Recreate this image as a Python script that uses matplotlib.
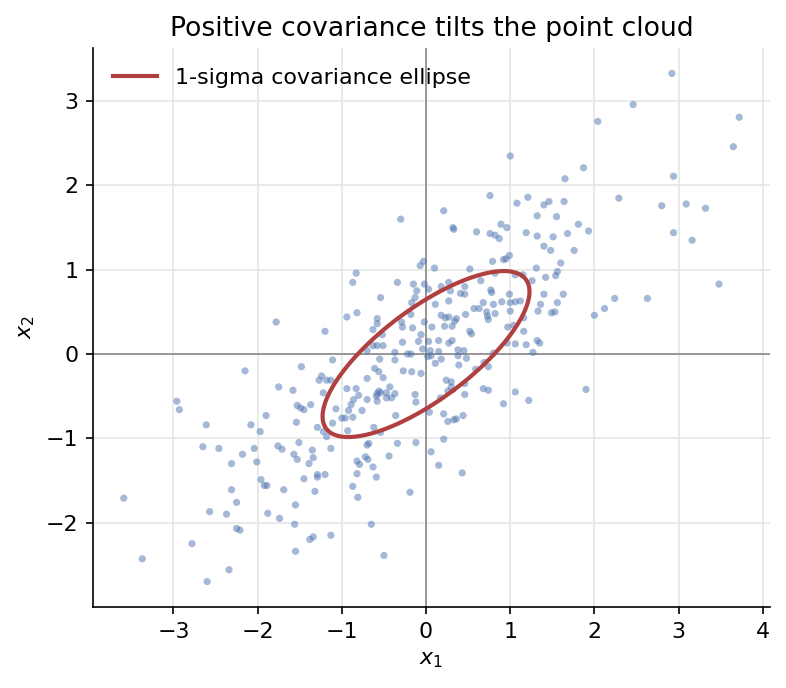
import numpy as np
import matplotlib
matplotlib.use("Agg")
import matplotlib.pyplot as plt

# ---- data (x1, x2 pairs) ----
x1_left = [-2.15,-1.48,-1.75,-1.58,-1.24,-1.27,-1.22,-2.96,-2.93,-1.53,
           -1.49,-1.45,-1.37,-1.90,-2.61,-2.08,-1.97,-1.54,-1.29,-1.22,
           -2.65,-2.46,-2.18,-2.04,-1.76,-1.71,-1.51,-1.35,-1.57,-1.53,
           -1.34,-1.39,-2.31,-2.01,-1.96,-1.92,-1.89,-1.69,-1.45,-1.29,
           -1.29,-1.32,-2.31,-2.25,-3.59,-2.57,-2.37,-1.88,-1.74,-1.55,
           -1.56,-2.25,-2.21,-2.78,-1.38,-1.34,-1.55,-3.37,-2.34,-2.60]
x2_left = [-0.20,-0.15,-0.39,-0.43,-0.26,-0.31,-0.46,-0.56,-0.66,-0.61,
           -0.64,-0.66,-0.60,-0.73,-0.84,-0.84,-0.92,-0.81,-0.87,-0.92,
           -1.10,-1.12,-1.19,-1.12,-1.09,-1.13,-1.05,-1.14,-1.19,-1.25,
           -1.23,-1.30,-1.30,-1.28,-1.49,-1.56,-1.56,-1.61,-1.48,-1.43,
           -1.46,-1.63,-1.61,-1.76,-1.71,-1.87,-1.90,-1.89,-1.95,-1.79,
           -2.02,-2.07,-2.09,-2.25,-2.20,-2.17,-2.34,-2.43,-2.56,-2.70]

x1_right = [2.92,2.46,2.04,3.72,3.65,1.87,1.65,2.94,2.29,2.80,
            3.09,3.32,1.40,1.46,1.64,1.55,1.81,1.93,1.68,1.51,
            2.94,3.16,1.40,1.48,1.76,1.60,1.56,1.54,1.42,3.48,
            1.40,1.63,2.24,2.63,1.36,1.56,1.49,1.53,2.12,2.00]
x2_right = [3.33,2.96,2.76,2.81,2.46,2.21,2.08,2.11,1.85,1.76,
            1.78,1.73,1.77,1.81,1.81,1.63,1.54,1.46,1.43,1.39,
            1.44,1.35,1.28,1.23,1.23,1.08,0.98,0.93,0.91,0.83,
            0.71,0.71,0.66,0.66,0.59,0.61,0.49,0.50,0.54,0.46]

x1_upper_mid = [-0.30,0.21,-0.03,-0.07,0.10,-0.83,-0.87,-0.34,-0.15,-0.02,
                -0.11,0.18,0.03,-0.54,-0.13,-0.17,0.11,-0.82,-0.94,-0.18,
                -0.58,-0.58,0.18,-0.29,-0.28,-0.02,-0.16,0.07,-1.20,-0.63,
                -0.52,-0.06,0.22,-0.28,-0.09,0.03,0.15]
x2_upper_mid = [1.60,1.70,1.10,1.05,1.02,0.96,0.85,0.85,0.83,0.83,
                0.75,0.80,0.77,0.67,0.67,0.61,0.59,0.49,0.44,0.47,
                0.42,0.36,0.46,0.38,0.32,0.38,0.31,0.32,0.27,0.29,
                0.23,0.23,0.33,0.14,0.15,0.15,0.16]

x1_upper_right = [1.00,0.76,1.08,1.21,1.32,0.32,0.33,0.60,0.76,0.82,
                  0.87,0.89,0.96,1.19,1.32,0.92,0.95,0.99,0.79,0.52,
                  0.82,0.65,0.46,0.27,1.06,1.15,1.31,1.26,0.29,0.41,
                  0.46,0.77,0.78,0.99,0.27,0.68,0.80,0.90,1.00,1.06,
                  1.12,0.23,0.27,0.34,0.36,0.31,0.47,0.57,0.63,0.72,
                  0.73,0.74,0.82,1.00,1.16,1.33,0.52,0.54,0.97,1.04,
                  1.16,0.27,0.31,1.06,1.19,1.32]
x2_upper_right = [2.35,1.88,1.79,1.86,1.64,1.50,1.48,1.45,1.43,1.41,
                  1.37,1.54,1.50,1.44,1.40,1.12,1.13,1.17,1.10,1.01,
                  0.96,0.87,0.80,0.85,0.94,0.94,1.02,0.87,0.75,0.72,
                  0.71,0.76,0.73,0.71,0.63,0.61,0.59,0.62,0.61,0.62,
                  0.63,0.43,0.44,0.39,0.42,0.33,0.47,0.54,0.54,0.50,
                  0.45,0.41,0.48,0.51,0.43,0.51,0.27,0.24,0.32,0.34,
                  0.27,0.13,0.16,0.12,0.11,0.16]

x1_lower_mid = [-0.63,-0.58,-0.51,-0.37,-0.22,-0.18,-0.70,-1.11,-0.55,-0.37,
                -0.04,-0.61,-0.56,-0.51,-0.27,-0.17,-0.06,-1.18,-1.13,-0.70,
                -0.56,-0.58,-0.54,-0.59,-0.47,-0.43,-0.37,-0.41,-0.47,-0.94,
                -0.83,-0.80,-0.86,-0.89,-0.70,-0.58,-0.13,-0.12,-1.07,-0.92,
                -0.76,-1.00,-0.96,-0.87,-1.11,-1.18,-0.93,-0.62,-0.36,-0.54,
                -1.13,-0.70,-0.68,-0.34,-0.12,-0.72,-0.69,-0.82,-0.79,-0.63,
                -0.44,-0.82,-0.59,-1.20,-0.87]
x2_lower_mid = [0.10,0.10,0.10,0.02,0.00,0.00,0.04,-0.07,-0.06,-0.07,
                0.06,-0.17,-0.21,-0.28,-0.20,-0.21,-0.23,-0.31,-0.31,-0.29,
                -0.44,-0.47,-0.46,-0.50,-0.46,-0.39,-0.47,-0.52,-0.52,-0.41,
                -0.41,-0.49,-0.54,-0.60,-0.54,-0.56,-0.48,-0.57,-0.65,-0.67,
                -0.67,-0.76,-0.76,-0.75,-0.82,-0.98,-0.91,-0.87,-0.73,-0.93,
                -1.12,-1.08,-1.06,-1.06,-1.05,-1.22,-1.25,-1.27,-1.31,-1.34,
                -1.21,-1.42,-1.46,-1.43,-1.57]

x1_lower_right = [0.15,0.05,0.02,0.06,0.18,0.11,0.38,0.45,0.38,0.48,
                  0.96,1.35,1.27,0.39,0.59,0.69,0.74,0.80,0.24,0.30,
                  0.30,0.26,0.46,0.46,0.17,0.68,0.74,1.06,1.22,0.92,
                  0.04,0.21,0.26,0.33,0.36,0.44,0.21,0.06,0.15,0.43]
x2_lower_right = [0.03,0.04,-0.03,-0.02,-0.06,-0.11,0.05,0.04,-0.02,-0.05,
                  0.13,0.13,0.02,-0.13,-0.18,-0.10,-0.15,0.01,-0.31,-0.33,
                  -0.39,-0.44,-0.35,-0.48,-0.52,-0.41,-0.43,-0.45,-0.55,-0.59,
                  -0.69,-0.71,-0.80,-0.78,-0.77,-0.73,-1.01,-1.16,-1.32,-1.41]

x1_sparse = [-0.81,-0.19,-0.65,-1.13,-0.50,-1.78,1.90]
x2_sparse = [-1.70,-1.64,-2.02,-2.15,-2.39,0.38,-0.42]

# covariance used for the drawn 1-sigma ellipse
ellipse_center = [0.0, 0.0]
ellipse_cov = [[1.51, 0.91],
               [0.91, 0.97]]

title = "Positive covariance tilts the point cloud"
legend_label = "1-sigma covariance ellipse"
xticks = [-3, -2, -1, 0, 1, 2, 3, 4]
yticks = [-2, -1, 0, 1, 2, 3]

x1 = np.array(x1_left + x1_right + x1_upper_mid + x1_upper_right
              + x1_lower_mid + x1_lower_right + x1_sparse)
x2 = np.array(x2_left + x2_right + x2_upper_mid + x2_upper_right
              + x2_lower_mid + x2_lower_right + x2_sparse)

# ---- figure ----
fig = plt.figure(figsize=(7.86 / 1.5, 6.88 / 1.5), dpi=150)
ax = fig.add_axes([93 / 786, 1 - 607 / 688, (770 - 93) / 786, (607 - 48) / 688])

ax.grid(True, color="#e6e6e6", linewidth=0.8, zorder=0)
ax.set_axisbelow(True)
ax.axhline(0, color="#888888", linewidth=0.8, zorder=1)
ax.axvline(0, color="#888888", linewidth=0.8, zorder=1)

ax.scatter(x1, x2, s=12, color="#4C72B0", alpha=0.5, edgecolors="none", zorder=2)

mu = np.array(ellipse_center)
vals, vecs = np.linalg.eigh(np.array(ellipse_cov))
t = np.linspace(0, 2 * np.pi, 400)
circle = np.vstack([np.cos(t), np.sin(t)])
ell = vecs @ (np.sqrt(vals)[:, None] * circle) + mu[:, None]
ax.plot(ell[0], ell[1], color="#B04040", linewidth=2, label=legend_label, zorder=3)

fs = 10.65
ax.set_xticks(xticks)
ax.set_yticks(yticks)
ax.set_xticklabels([f"\u2212{abs(v)}" if v < 0 else str(v) for v in xticks])
ax.set_yticklabels([f"\u2212{abs(v)}" if v < 0 else str(v) for v in yticks])
ax.tick_params(labelsize=fs)
ax.set_xlabel("$x_1$", fontsize=fs)
ax.set_ylabel("$x_2$", fontsize=fs)
ax.set_title(title, fontsize=12.8)
for s in ["top", "right"]:
    ax.spines[s].set_visible(False)
ax.legend(loc="upper left", frameon=False, fontsize=fs)
ax.margins(0.05)

fig.savefig("out.png", dpi=150)
